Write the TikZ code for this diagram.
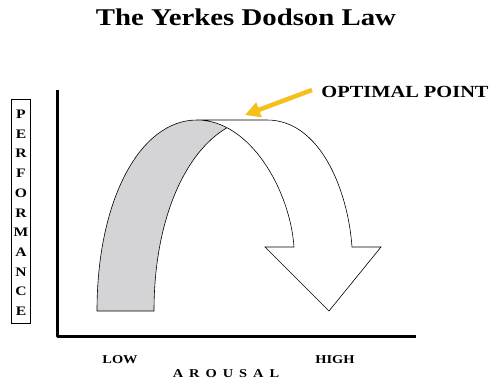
\documentclass[tikz,border=0pt]{standalone}
\usepackage{fontspec}
\setmainfont{Liberation Serif}[FakeStretch=1.2]
\usetikzlibrary{arrows.meta}
\definecolor{optyellow}{HTML}{F5BF1C}
\definecolor{backgrey}{HTML}{D4D4D6}

\begin{document}
\begin{tikzpicture}[
  x=1pt, y=-1pt,
  font=\bfseries,
  lbl/.style={inner sep=0pt, anchor=base},
  axis/.style={line width=3pt, line join=round},
  edge/.style={line width=0.6pt, line join=miter},
  pointer/.style={-{Triangle[length=15pt,width=15pt]}, line width=4.5pt, draw=optyellow}
]
\useasboundingbox (0,0) rectangle (492,380);

% title
\node[lbl, font=\bfseries\fontsize{24}{28}\selectfont] (title) at (246,25) {The Yerkes Dodson Law};

% axes
\coordinate (ytop) at (57,90);
\coordinate (origin) at (57,336);
\coordinate (xend) at (416,336);
\draw[axis] (ytop) -- (origin) -- (xend);

% vertical label
\node[draw, line width=1pt, minimum width=19pt, minimum height=224pt, inner sep=0pt] (perf) at (21,211) {};
\foreach \c [count=\i] in {P,E,R,F,O,R,M,A,N,C,E} {
  \node[lbl, font=\bfseries\fontsize{13}{13}\selectfont] (p\i) at (21,118.5+19.7*\i-19.7) {\c};
}

% back of the curve (rising part)
\coordinate (lo) at (97,311);
\coordinate (li) at (154,311);
\coordinate (top) at (197,120);
\coordinate (fold) at (227.1,127.7);
\fill[backgrey] (lo) .. controls (97,200) and (140,120) .. (top)
  .. controls (207.6,120) and (217.7,122.8) .. (fold)
  .. controls (185,152) and (154,220) .. (li) -- cycle;
\draw[edge] (li) -- (lo) .. controls (97,200) and (140,120) .. (top);
\draw[edge] (li) .. controls (154,220) and (185,152) .. (fold);

% front of the curve (falling part with arrow head)
\coordinate (tr) at (267,120);
\coordinate (ro) at (352,247);
\coordinate (ri) at (294,247);
\coordinate (wr) at (381,247);
\coordinate (wl) at (265,247);
\coordinate (tip) at (329,311);
\filldraw[edge, fill=white] (top) -- (tr) .. controls (320,120) and (348,190) .. (ro)
  -- (wr) -- (tip) -- (wl) -- (ri) .. controls (290,190) and (250,120) .. (top) -- cycle;

% optimal point
\node[lbl, font=\bfseries\fontsize{17}{17}\selectfont] (opt) at (405,97) {OPTIMAL POINT};
\coordinate (optfrom) at (312,90);
\coordinate (optat) at (245,115);
\draw[pointer] (optfrom) -- (optat);

% axis labels
\node[lbl, font=\bfseries\fontsize{12}{12}\selectfont] (low) at (120,363) {LOW};
\node[lbl, font=\bfseries\fontsize{12}{12}\selectfont] (high) at (335,363) {HIGH};
\node[lbl, font=\bfseries\fontsize{12}{12}\selectfont] (arousal) at (226,377) {A\hspace{0.5em}R\hspace{0.5em}O\hspace{0.5em}U\hspace{0.5em}S\hspace{0.5em}A\hspace{0.5em}L};
\end{tikzpicture}
\end{document}
